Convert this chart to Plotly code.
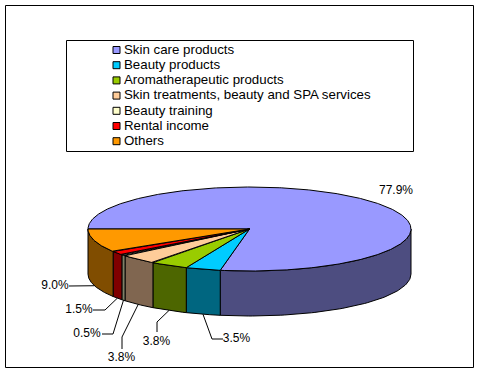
import numpy as np
import plotly.graph_objects as go

categories = ["Skin care products", "Beauty products", "Aromatherapeutic products",
              "Skin treatments, beauty and SPA services", "Beauty training",
              "Rental income", "Others"]
values = [77.9, 3.5, 3.8, 3.8, 0.5, 1.5, 9.0]
labels = ["77.9%", "3.5%", "3.8%", "3.8%", "0.5%", "1.5%", "9.0%"]
top_colors = ["#9999ff", "#00ccff", "#99cc00", "#ffcc99", "#ffffcc", "#ff0000", "#ff9900"]
rim_colors = ["#4d4d80", "#006680", "#4d6600", "#806650", "#808066", "#800000", "#804d00"]

# pie geometry, in page pixels
CX, CY, RX, RY, DEPTH = 249.5, 229, 161.5, 42, 45
START = 180.0
# label centre and elbow of the leader line
label_pos = [(396, 191), (236.5, 339), (156.5, 342), (121.5, 358), (87, 334), (79, 310), (55, 286)]
elbows = [None, (212, 339), (157, 322), (122, 337), (113, 334), (105, 310), (70, 286)]
leader_ends = [None, (223, 339), (157, 332), (122, 349), (102, 334), (93, 310), (69, 286)]

fig = go.Figure()


def ell(a, dy=0.0):
    r = np.radians(a)
    return CX + RX * np.cos(r), CY + dy + RY * np.sin(r)


spans = []
acc = START
for v in values:
    spans.append((acc, acc + v * 3.6))
    acc += v * 3.6

# rims (front, lower half only)
for (a0, a1), col, name in zip(spans, rim_colors, categories):
    for lo, hi in ((0, 180), (360, 540)):
        s, e = max(a0, lo), min(a1, hi)
        if e <= s:
            continue
        t = np.linspace(s, e, 80)
        xt, yt = ell(t)
        xb, yb = ell(t[::-1], DEPTH)
        fig.add_trace(go.Scatter(
            x=np.r_[xt, xb, xt[0]], y=np.r_[yt, yb, yt[0]], mode="lines", fill="toself",
            fillcolor=col, line=dict(color="black", width=1), hoverinfo="skip",
            showlegend=False))

# top faces
for (a0, a1), col, name in zip(spans, top_colors, categories):
    t = np.linspace(a0, a1, max(int(a1 - a0) * 2, 8))
    xt, yt = ell(t)
    fig.add_trace(go.Scatter(
        x=np.r_[CX, xt, CX], y=np.r_[CY, yt, CY], mode="lines", fill="toself",
        fillcolor=col, line=dict(color="black", width=1), name=name, showlegend=False))

# leader lines from the rim to the labels
for (a0, a1), elbow, end in zip(spans, elbows, leader_ends):
    if elbow is None:
        continue
    mx, my = ell((a0 + a1) / 2, DEPTH)
    fig.add_trace(go.Scatter(x=[mx, elbow[0], end[0]], y=[my, elbow[1], end[1]], mode="lines",
                             line=dict(color="black", width=1), hoverinfo="skip", showlegend=False))

# percentage labels
fig.add_trace(go.Scatter(
    x=[p[0] for p in label_pos], y=[p[1] for p in label_pos], text=labels, mode="text",
    textposition="middle center", textfont=dict(family="Liberation Sans", size=12, color="black"),
    hoverinfo="skip", showlegend=False))

# legend, drawn in page pixels
LEG_X, LEG_Y0, LEG_STEP = 116.5, 50, 15.2
fig.add_shape(type="rect", x0=66.5, x1=413.5, y0=40.5, y1=151.5, line=dict(color="black", width=1))
for i, (name, col) in enumerate(zip(categories, top_colors)):
    row_y = LEG_Y0 + i * LEG_STEP
    fig.add_trace(go.Scatter(
        x=[LEG_X], y=[row_y], mode="markers", name=name,
        marker=dict(symbol="square", size=7, color=col, line=dict(color="black", width=1)),
        showlegend=False))
    fig.add_trace(go.Scatter(
        x=[LEG_X + 7.5], y=[row_y + 0.5], text=[name], mode="text",
        textposition="middle right", hoverinfo="skip",
        textfont=dict(family="Liberation Sans", size=13.3, color="black"), showlegend=False))

# outer frame
fig.add_shape(type="rect", x0=5.5, x1=473.5, y0=5.5, y1=367.5, line=dict(color="black", width=1))

fig.update_layout(
    width=480, height=373, margin=dict(l=0, r=0, t=0, b=0), autosize=False,
    paper_bgcolor="white", plot_bgcolor="white", showlegend=False,
    xaxis=dict(range=[0, 480], visible=False, fixedrange=True),
    yaxis=dict(range=[373, 0], visible=False, fixedrange=True),
)
fig.write_html("out.html", config=dict(displayModeBar=False),
               post_script="document.body.style.margin='0';document.body.style.overflow='hidden';")
